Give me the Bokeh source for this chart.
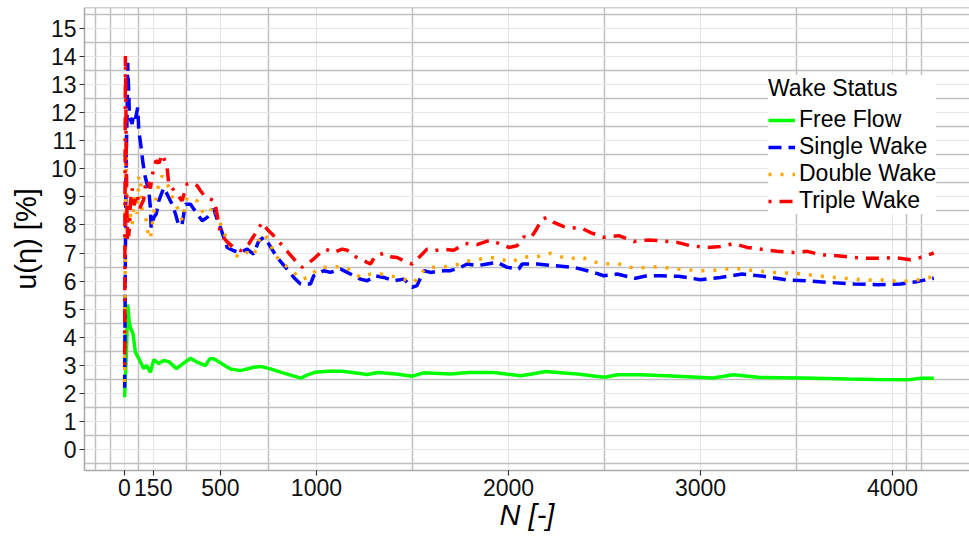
from bokeh.plotting import figure
from bokeh.models import Range1d, FixedTicker, Legend, LegendItem, Span
from bokeh.embed import file_html
from bokeh.resources import INLINE

# ---------------- data ----------------
x_ticks = [0, 150, 500, 1000, 2000, 3000, 4000]
x_minor = [-150, -75, 75, 325, 750, 1500, 2500, 3500, 4075, 4150]
y_ticks = list(range(0, 16))
y_minor = [-0.5 + i for i in range(17)]

free_n = [1, 5, 10, 17, 24, 31, 45, 57, 75, 100, 115, 135, 153, 179, 205, 231, 271, 300, 344, 379,
          422, 444, 465, 552, 604, 673, 708, 760, 830, 920, 943, 991, 1062, 1132, 1200, 1262, 1321,
          1415, 1498, 1557, 1698, 1792, 1922, 2063, 2122, 2193, 2358, 2499, 2570, 2688, 2850, 3065,
          3171, 3300, 3536, 3771, 3911, 4078, 4149, 4215]
free_u = [1.86, 2.6, 3.4, 5.16, 4.6, 4.35, 4.12, 3.46, 3.24, 2.88, 3.0, 2.75, 3.2, 3.06, 3.17, 3.13,
          2.88, 3.03, 3.25, 3.11, 2.99, 3.23, 3.23, 2.87, 2.81, 2.93, 2.96, 2.87, 2.72, 2.54, 2.63,
          2.75, 2.79, 2.79, 2.73, 2.67, 2.74, 2.69, 2.61, 2.73, 2.69, 2.74, 2.74, 2.63, 2.69, 2.78,
          2.69, 2.57, 2.66, 2.66, 2.62, 2.55, 2.66, 2.57, 2.55, 2.51, 2.49, 2.48, 2.54, 2.54]

single_n = [1, 3, 5, 8, 11, 14, 17, 20, 22, 26, 31, 40, 48, 58, 69, 75, 87, 97, 109, 127, 135, 139,
            153, 166, 179, 192, 205, 222, 248, 266, 283, 300, 318, 344, 379, 405, 431, 465, 491, 500,
            535, 569, 604, 639, 673, 700, 726, 752, 795, 847, 882, 917, 969, 986, 1038, 1073, 1125,
            1160, 1229, 1264, 1307, 1351, 1403, 1455, 1498, 1524, 1559, 1594, 1663, 1698, 1750, 1785,
            1837, 1889, 1941, 1993, 2054, 2071, 2149, 2236, 2340, 2444, 2496, 2566, 2661, 2722, 2792,
            2887, 3000, 3104, 3217, 3330, 3451, 3556, 3677, 3799, 3920, 4042, 4128, 4189, 4215]
single_u = [2.2, 4.5, 7.0, 9.8, 11.0, 12.0, 13.78, 13.2, 12.78, 11.9, 11.77, 11.6, 11.95, 11.8, 12.18,
            11.35, 10.76, 10.17, 9.69, 9.22, 8.62, 7.91, 8.27, 8.4, 8.86, 9.1, 9.33, 9.1, 8.74, 8.39,
            7.97, 8.03, 8.74, 8.74, 8.39, 8.15, 8.27, 8.57, 8.03, 7.91, 7.2, 7.08, 7.02, 7.14, 6.96,
            7.44, 7.56, 7.32, 6.84, 6.43, 6.13, 5.9, 5.9, 6.19, 6.37, 6.31, 6.43, 6.31, 6.07, 6.01,
            6.19, 6.13, 6.01, 6.07, 5.78, 5.84, 6.37, 6.31, 6.37, 6.37, 6.49, 6.61, 6.55, 6.61, 6.67,
            6.49, 6.43, 6.61, 6.61, 6.55, 6.49, 6.31, 6.19, 6.25, 6.1, 6.19, 6.19, 6.17, 6.05, 6.13,
            6.25, 6.17, 6.04, 6.01, 5.95, 5.9, 5.87, 5.9, 5.98, 6.07, 6.1]

double_n = [1, 3, 5, 8, 10, 13, 17, 22, 30, 40, 48, 57, 66, 75, 83, 92, 100, 110, 120, 135, 150, 165,
            180, 196, 215, 231, 257, 292, 300, 326, 352, 379, 413, 448, 465, 500, 535, 569, 595, 639,
            673, 700, 726, 760, 778, 830, 882, 917, 960, 986, 1021, 1108, 1160, 1229, 1281, 1333,
            1403, 1455, 1507, 1542, 1576, 1646, 1715, 1802, 1906, 1958, 2010, 2080, 2132, 2219, 2271,
            2323, 2375, 2479, 2566, 2653, 2774, 2878, 3000, 3087, 3174, 3278, 3382, 3503, 3608, 3729,
            3851, 3955, 4042, 4128, 4194, 4215]
double_u = [2.4, 5.0, 8.0, 10.9, 9.5, 8.2, 7.6, 8.5, 8.4, 8.0, 8.6, 9.1, 8.4, 9.75, 9.7, 8.5, 8.45,
            8.3, 7.8, 7.5, 8.3, 9.0, 9.5, 9.75, 9.6, 9.33, 8.86, 8.39, 8.15, 8.98, 8.92, 8.86, 8.39,
            8.5, 8.68, 8.03, 7.44, 7.02, 6.84, 7.02, 6.9, 7.44, 7.68, 7.38, 6.96, 6.61, 6.31, 6.07,
            6.13, 6.31, 6.49, 6.51, 6.46, 6.13, 6.25, 6.25, 6.16, 6.07, 5.95, 6.25, 6.49, 6.49, 6.55,
            6.73, 6.84, 6.79, 6.67, 6.87, 6.84, 6.99, 6.87, 6.79, 6.87, 6.61, 6.63, 6.46, 6.51, 6.43,
            6.37, 6.39, 6.46, 6.37, 6.31, 6.27, 6.19, 6.11, 6.04, 6.04, 5.98, 6.04, 6.13, 6.15]

triple_n = [1, 2, 3, 5, 7, 9, 12, 15, 18, 22, 26, 31, 40, 50, 66, 80, 100, 109, 120, 135, 151, 165,
            180, 196, 210, 222, 231, 250, 274, 300, 326, 352, 379, 396, 420, 448, 470, 500, 535, 569,
            604, 647, 691, 717, 743, 786, 830, 882, 925, 951, 986, 1030, 1047, 1090, 1134, 1160, 1203,
            1246, 1281, 1307, 1351, 1385, 1420, 1472, 1498, 1542, 1576, 1611, 1663, 1715, 1776, 1837,
            1906, 1958, 2002, 2045, 2080, 2115, 2141, 2175, 2201, 2236, 2288, 2323, 2375, 2427, 2496,
            2575, 2653, 2722, 2792, 2878, 2948, 3035, 3104, 3174, 3243, 3330, 3399, 3486, 3556, 3625,
            3712, 3799, 3868, 3938, 4007, 4094, 4146, 4189, 4215]
triple_u = [3.0, 5.6, 9.0, 14.02, 12.8, 11.0, 9.0, 7.5, 8.2, 7.6, 7.9, 8.8, 9.3, 8.7, 9.1, 8.6, 8.9,
            9.4, 9.6, 9.3, 10.0, 10.3, 10.2, 10.52, 10.3, 10.05, 9.46, 9.3, 9.1, 8.86, 9.46, 9.51, 9.4,
            9.22, 9.0, 8.92, 8.86, 7.68, 7.4, 7.2, 7.08, 7.32, 7.79, 8.09, 7.85, 7.56, 7.2, 6.79, 6.49,
            6.61, 6.79, 7.08, 7.14, 7.02, 7.14, 7.1, 6.87, 6.73, 6.61, 6.9, 6.99, 6.87, 6.84, 6.67,
            6.61, 6.9, 7.14, 7.08, 7.14, 7.1, 7.34, 7.3, 7.46, 7.32, 7.2, 7.26, 7.58, 7.53, 7.79, 8.21,
            8.27, 8.09, 7.94, 7.89, 7.91, 7.73, 7.56, 7.62, 7.41, 7.46, 7.44, 7.38, 7.26, 7.2, 7.23,
            7.34, 7.2, 7.12, 7.06, 7.02, 7.06, 6.94, 6.9, 6.84, 6.81, 6.81, 6.84, 6.76, 6.84, 6.94, 7.0]

series_labels = ["Free Flow", "Single Wake", "Double Wake", "Triple Wake"]
legend_title = "Wake Status"

# ---------------- figure ----------------
FONT = "Liberation Sans"

p = figure(width=969, height=538, output_backend="svg", toolbar_location=None,
           x_range=Range1d(-208, 4401), y_range=Range1d(-0.75, 15.75),
           min_border_left=84, min_border_right=0, min_border_top=7, min_border_bottom=68)
p.background_fill_color = "white"
p.border_fill_color = "white"
p.outline_line_color = None

p.xaxis.ticker = FixedTicker(ticks=x_ticks, minor_ticks=x_minor)
p.yaxis.ticker = FixedTicker(ticks=y_ticks, minor_ticks=y_minor)

for grid in (p.xgrid, p.ygrid):
    grid.grid_line_color = "#e6e6e6"
    grid.grid_line_width = 1.2
    grid.minor_grid_line_color = "#c0c0c0"
    grid.minor_grid_line_width = 1.5

for ax in (p.xaxis, p.yaxis):
    ax.axis_line_color = "#a8a8a8"
    ax.axis_line_width = 1.5
    ax.major_tick_line_color = "#333333"
    ax.major_tick_line_width = 1.2
    ax.major_tick_out = 5
    ax.major_tick_in = 0
    ax.minor_tick_line_color = None
    ax.major_label_text_font = FONT
    ax.major_label_text_font_size = "23px"
    ax.major_label_text_color = "#111111"
    ax.axis_label_text_font = FONT
    ax.axis_label_text_color = "#000000"

p.xaxis.axis_label = "N [-]"
p.xaxis.axis_label_text_font_style = "italic"
p.xaxis.axis_label_text_font_size = "29px"
p.xaxis.major_label_standoff = 3
p.xaxis.axis_label_standoff = 0
p.yaxis.axis_label = "u(η) [%]"
p.yaxis.axis_label_text_font_style = "normal"
p.yaxis.axis_label_text_font_size = "29px"
p.yaxis.major_label_standoff = 3
p.yaxis.axis_label_standoff = 6

top_border = Span(location=15.75, dimension="width", line_color="#a8a8a8", line_width=1.5)
p.add_layout(top_border)

r1 = p.line(free_n, free_u, line_color="#00ff00", line_width=3.5)
r2 = p.line(single_n, single_u, line_color="#0000ff", line_width=3.5, line_dash="13 7")
r3 = p.line(double_n, double_u, line_color="#ffa500", line_width=3.5, line_dash="3 9")
r4 = p.line(triple_n, triple_u, line_color="#ff0000", line_width=3.5, line_dash="3 8 13 8")

legend = Legend(
    items=[LegendItem(label=series_labels[i], renderers=[r]) for i, r in enumerate([r1, r2, r3, r4])],
    location=(684, 256),
    title=legend_title,
    title_text_font=FONT, title_text_font_size="23px", title_text_color="#000000",
    title_text_font_style="normal",
    title_standoff=4,
    label_text_font=FONT, label_text_font_size="23px", label_text_color="#000000",
    label_height=26, glyph_height=26, glyph_width=27, label_standoff=4, spacing=0,
    padding=5, margin=0,
    border_line_color=None, background_fill_color="white", background_fill_alpha=1.0,
)
p.add_layout(legend)

open("out.html", "w").write(file_html(p, INLINE))
